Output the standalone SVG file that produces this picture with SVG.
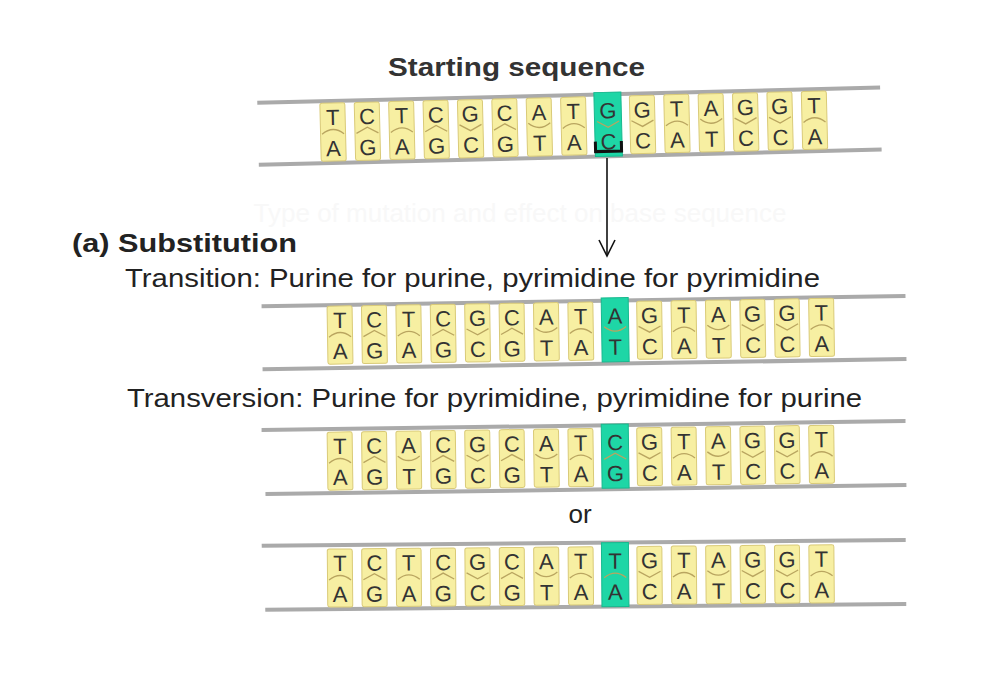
<svg xmlns="http://www.w3.org/2000/svg" xmlns:xlink="http://www.w3.org/1999/xlink" width="988" height="678" viewBox="0 0 988 678">
<style>
text{font-family:"Liberation Sans",Arial,sans-serif;fill:#222}
.b{fill:#f7efa2;stroke:#d9ca78;stroke-width:1}
.h{fill:#1ed6a6;stroke:#17b88e;stroke-width:1}
.bb{stroke:#aaa;stroke-width:4;fill:none}
.l{font-size:22px;text-anchor:middle;fill:#333}
.c{fill:none;stroke:#b9a560;stroke-width:1.3}
.t{font-size:26px}
</style>
<defs>
<rect id="tile" class="b" x="-12.5" y="-28" width="25" height="58" rx="2"/>
<rect id="hl" class="h" x="-13.5" y="-32" width="27" height="64"/>
<path id="cT" class="c" d="M-11,3 Q0,-6 11,3"/>
<path id="cA" class="c" d="M-11,-3 Q0,6 11,-3"/>
<path id="cC" class="c" d="M-11,3 L0,-3 L11,3"/>
<path id="cG" class="c" d="M-11,-3 L0,3 L11,-3"/>
</defs>
<rect x="0" y="0" width="988" height="678" fill="#fff"/>
<text x="520" y="222" text-anchor="middle" font-size="26" style="fill:#f8f8f8">Type of mutation and effect on base sequence</text>
<text class="t" x="388" y="76" textLength="257" lengthAdjust="spacingAndGlyphs" font-weight="bold" style="fill:#333">Starting sequence</text>
<text class="t" x="72" y="252" font-weight="bold" textLength="225" lengthAdjust="spacingAndGlyphs">(a)  Substitution</text>
<text class="t" x="125" y="287" textLength="695" lengthAdjust="spacingAndGlyphs">Transition: Purine for purine, pyrimidine for pyrimidine</text>
<text class="t" x="127" y="407" textLength="735" lengthAdjust="spacingAndGlyphs">Transversion: Purine for pyrimidine, pyrimidine for purine</text>
<text class="t" x="580" y="523" text-anchor="middle">or</text>

<g id="row0" transform="translate(333,131) rotate(-1.4)">
<line class="bb" x1="-75" y1="-30" x2="548" y2="-30"/><line class="bb" x1="-75" y1="32" x2="548" y2="32"/>
<use href="#tile" x="0"/><use href="#tile" x="34.4"/><use href="#tile" x="68.8"/><use href="#tile" x="103.2"/><use href="#tile" x="137.6"/><use href="#tile" x="172"/><use href="#tile" x="206.4"/><use href="#tile" x="240.8"/><use href="#hl" x="275.2"/><use href="#tile" x="309.6"/><use href="#tile" x="344"/><use href="#tile" x="378.4"/><use href="#tile" x="412.8"/><use href="#tile" x="447.2"/><use href="#tile" x="481.6"/>
<use href="#cT" x="0"/><use href="#cC" x="34.4"/><use href="#cT" x="68.8"/><use href="#cC" x="103.2"/><use href="#cG" x="137.6"/><use href="#cC" x="172"/><use href="#cA" x="206.4"/><use href="#cT" x="240.8"/><use href="#cG" x="275.2"/><use href="#cG" x="309.6"/><use href="#cT" x="344"/><use href="#cA" x="378.4"/><use href="#cG" x="412.8"/><use href="#cG" x="447.2"/><use href="#cT" x="481.6"/>
<text class="l" y="-6"><tspan x="0">T</tspan><tspan x="34.4">C</tspan><tspan x="68.8">T</tspan><tspan x="103.2">C</tspan><tspan x="137.6">G</tspan><tspan x="172">C</tspan><tspan x="206.4">A</tspan><tspan x="240.8">T</tspan><tspan x="275.2">G</tspan><tspan x="309.6">G</tspan><tspan x="344">T</tspan><tspan x="378.4">A</tspan><tspan x="412.8">G</tspan><tspan x="447.2">G</tspan><tspan x="481.6">T</tspan></text>
<text class="l" y="25"><tspan x="0">A</tspan><tspan x="34.4">G</tspan><tspan x="68.8">A</tspan><tspan x="103.2">G</tspan><tspan x="137.6">C</tspan><tspan x="172">G</tspan><tspan x="206.4">T</tspan><tspan x="240.8">A</tspan><tspan x="275.2">C</tspan><tspan x="309.6">C</tspan><tspan x="344">A</tspan><tspan x="378.4">T</tspan><tspan x="412.8">C</tspan><tspan x="447.2">C</tspan><tspan x="481.6">A</tspan></text>
<path d="M262,17 V27 H288 V17" fill="none" stroke="#111" stroke-width="3"/>
</g>

<g id="row1" transform="translate(340,334) rotate(-0.9)">
<line class="bb" x1="-78" y1="-29" x2="566" y2="-29"/><line class="bb" x1="-78" y1="34" x2="566" y2="34"/>
<use href="#tile" x="0"/><use href="#tile" x="34.4"/><use href="#tile" x="68.8"/><use href="#tile" x="103.2"/><use href="#tile" x="137.6"/><use href="#tile" x="172"/><use href="#tile" x="206.4"/><use href="#tile" x="240.8"/><use href="#hl" x="275.2"/><use href="#tile" x="309.6"/><use href="#tile" x="344"/><use href="#tile" x="378.4"/><use href="#tile" x="412.8"/><use href="#tile" x="447.2"/><use href="#tile" x="481.6"/>
<use href="#cT" x="0"/><use href="#cC" x="34.4"/><use href="#cT" x="68.8"/><use href="#cC" x="103.2"/><use href="#cG" x="137.6"/><use href="#cC" x="172"/><use href="#cA" x="206.4"/><use href="#cT" x="240.8"/><use href="#cA" x="275.2"/><use href="#cG" x="309.6"/><use href="#cT" x="344"/><use href="#cA" x="378.4"/><use href="#cG" x="412.8"/><use href="#cG" x="447.2"/><use href="#cT" x="481.6"/>
<text class="l" y="-6"><tspan x="0">T</tspan><tspan x="34.4">C</tspan><tspan x="68.8">T</tspan><tspan x="103.2">C</tspan><tspan x="137.6">G</tspan><tspan x="172">C</tspan><tspan x="206.4">A</tspan><tspan x="240.8">T</tspan><tspan x="275.2">A</tspan><tspan x="309.6">G</tspan><tspan x="344">T</tspan><tspan x="378.4">A</tspan><tspan x="412.8">G</tspan><tspan x="447.2">G</tspan><tspan x="481.6">T</tspan></text>
<text class="l" y="25"><tspan x="0">A</tspan><tspan x="34.4">G</tspan><tspan x="68.8">A</tspan><tspan x="103.2">G</tspan><tspan x="137.6">C</tspan><tspan x="172">G</tspan><tspan x="206.4">T</tspan><tspan x="240.8">A</tspan><tspan x="275.2">T</tspan><tspan x="309.6">C</tspan><tspan x="344">A</tspan><tspan x="378.4">T</tspan><tspan x="412.8">C</tspan><tspan x="447.2">C</tspan><tspan x="481.6">A</tspan></text>
</g>

<g id="row2" transform="translate(340,460) rotate(-0.8)">
<line class="bb" x1="-78" y1="-31" x2="566" y2="-31"/><line class="bb" x1="-75" y1="33" x2="566" y2="33"/>
<use href="#tile" x="0"/><use href="#tile" x="34.4"/><use href="#tile" x="68.8"/><use href="#tile" x="103.2"/><use href="#tile" x="137.6"/><use href="#tile" x="172"/><use href="#tile" x="206.4"/><use href="#tile" x="240.8"/><use href="#hl" x="275.2"/><use href="#tile" x="309.6"/><use href="#tile" x="344"/><use href="#tile" x="378.4"/><use href="#tile" x="412.8"/><use href="#tile" x="447.2"/><use href="#tile" x="481.6"/>
<use href="#cT" x="0"/><use href="#cC" x="34.4"/><use href="#cA" x="68.8"/><use href="#cC" x="103.2"/><use href="#cG" x="137.6"/><use href="#cC" x="172"/><use href="#cA" x="206.4"/><use href="#cT" x="240.8"/><use href="#cC" x="275.2"/><use href="#cG" x="309.6"/><use href="#cT" x="344"/><use href="#cA" x="378.4"/><use href="#cG" x="412.8"/><use href="#cG" x="447.2"/><use href="#cT" x="481.6"/>
<text class="l" y="-6"><tspan x="0">T</tspan><tspan x="34.4">C</tspan><tspan x="68.8">A</tspan><tspan x="103.2">C</tspan><tspan x="137.6">G</tspan><tspan x="172">C</tspan><tspan x="206.4">A</tspan><tspan x="240.8">T</tspan><tspan x="275.2">C</tspan><tspan x="309.6">G</tspan><tspan x="344">T</tspan><tspan x="378.4">A</tspan><tspan x="412.8">G</tspan><tspan x="447.2">G</tspan><tspan x="481.6">T</tspan></text>
<text class="l" y="25"><tspan x="0">A</tspan><tspan x="34.4">G</tspan><tspan x="68.8">T</tspan><tspan x="103.2">G</tspan><tspan x="137.6">C</tspan><tspan x="172">G</tspan><tspan x="206.4">T</tspan><tspan x="240.8">A</tspan><tspan x="275.2">G</tspan><tspan x="309.6">C</tspan><tspan x="344">A</tspan><tspan x="378.4">T</tspan><tspan x="412.8">C</tspan><tspan x="447.2">C</tspan><tspan x="481.6">A</tspan></text>
</g>

<g id="row3" transform="translate(340,577) rotate(-0.5)">
<line class="bb" x1="-78" y1="-32" x2="566" y2="-32"/><line class="bb" x1="-75" y1="32" x2="566" y2="32"/>
<use href="#tile" x="0"/><use href="#tile" x="34.4"/><use href="#tile" x="68.8"/><use href="#tile" x="103.2"/><use href="#tile" x="137.6"/><use href="#tile" x="172"/><use href="#tile" x="206.4"/><use href="#tile" x="240.8"/><use href="#hl" x="275.2"/><use href="#tile" x="309.6"/><use href="#tile" x="344"/><use href="#tile" x="378.4"/><use href="#tile" x="412.8"/><use href="#tile" x="447.2"/><use href="#tile" x="481.6"/>
<use href="#cT" x="0"/><use href="#cC" x="34.4"/><use href="#cT" x="68.8"/><use href="#cC" x="103.2"/><use href="#cG" x="137.6"/><use href="#cC" x="172"/><use href="#cA" x="206.4"/><use href="#cT" x="240.8"/><use href="#cT" x="275.2"/><use href="#cG" x="309.6"/><use href="#cT" x="344"/><use href="#cA" x="378.4"/><use href="#cG" x="412.8"/><use href="#cG" x="447.2"/><use href="#cT" x="481.6"/>
<text class="l" y="-6"><tspan x="0">T</tspan><tspan x="34.4">C</tspan><tspan x="68.8">T</tspan><tspan x="103.2">C</tspan><tspan x="137.6">G</tspan><tspan x="172">C</tspan><tspan x="206.4">A</tspan><tspan x="240.8">T</tspan><tspan x="275.2">T</tspan><tspan x="309.6">G</tspan><tspan x="344">T</tspan><tspan x="378.4">A</tspan><tspan x="412.8">G</tspan><tspan x="447.2">G</tspan><tspan x="481.6">T</tspan></text>
<text class="l" y="25"><tspan x="0">A</tspan><tspan x="34.4">G</tspan><tspan x="68.8">A</tspan><tspan x="103.2">G</tspan><tspan x="137.6">C</tspan><tspan x="172">G</tspan><tspan x="206.4">T</tspan><tspan x="240.8">A</tspan><tspan x="275.2">A</tspan><tspan x="309.6">C</tspan><tspan x="344">A</tspan><tspan x="378.4">T</tspan><tspan x="412.8">C</tspan><tspan x="447.2">C</tspan><tspan x="481.6">A</tspan></text>
</g>

<g id="connectors">
<line x1="607" y1="158" x2="607" y2="255" stroke="#111" stroke-width="1.6"/>
<path d="M599,240 L607,256 L615,240" fill="none" stroke="#111" stroke-width="1.6"/>
</g>
</svg>
